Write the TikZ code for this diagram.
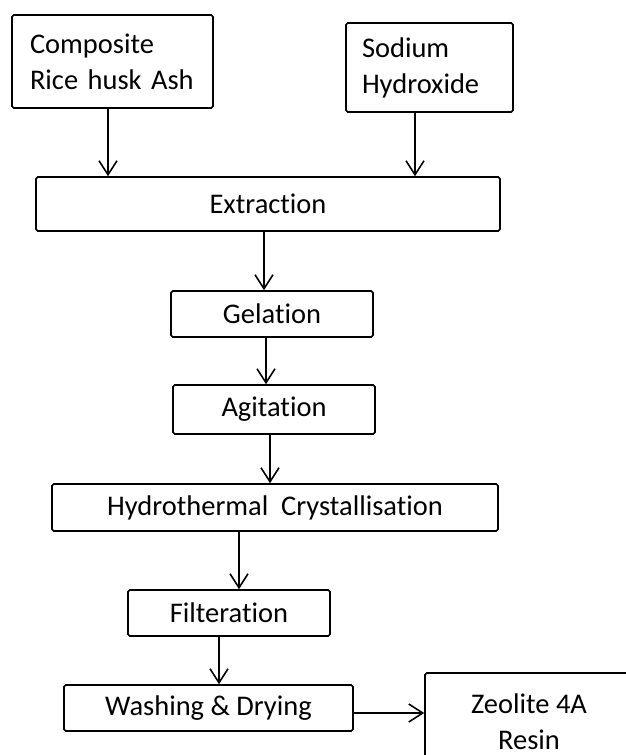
\documentclass[tikz,border=0pt]{standalone}
\usepackage{fontspec}
\setmainfont{Carlito}[Ligatures=NoCommon]
\usetikzlibrary{arrows.meta,
	positioning}

\begin{document}
\begin{tikzpicture}[
	>={Straight Barb[length=0.28cm,width=0.36cm]},
	box/.style 2 args={draw, line width=0.9pt, rounded corners=1pt, inner sep=0pt,
		minimum width=#1, minimum height=#2, font=\fontsize{16.2}{20.5}\selectfont},
	flow/.style={->, line width=0.9pt}]
	\useasboundingbox (0,0) rectangle (12.5,-15.1);
	% inputs
	\node[box={4.02cm}{1.86cm}, text width=3.3cm, align=left] (comp) at (2.25,-1.23) {Composite\\Rice husk Ash};
	\node[box={3.34cm}{1.78cm}, text width=2.7cm, align=left] (soda) at (8.59,-1.35) {Sodium\\Hydroxide};
	% process steps
	\node[box={9.28cm}{1.08cm}] (extr) at (5.36,-4.08) {Extraction};
	\node[box={4.04cm}{0.92cm}] (gel) at (5.44,-6.28) {Gelation};
	\node[box={4.04cm}{0.98cm}] (agit) at (5.48,-8.19) {Agitation};
	\node[box={8.92cm}{0.94cm}] (hydro) at (5.5,-10.15) {Hydrothermal\ \ Crystallisation};
	\node[box={4.04cm}{0.92cm}] (filt) at (4.58,-12.26) {Filteration};
	\node[box={5.78cm}{0.92cm}] (wash) at (4.17,-14.16) {Washing \& Drying};
	% product
	\node[box={4.16cm}{1.96cm}, align=center] (zeo) at (10.58,-14.44) {Zeolite 4A\\Resin};
	\foreach \src/\dst/\dx in {comp/extr/-0.09, soda/extr/-0.29, extr/gel/-0.08, gel/agit/-0.12,
		agit/hydro/-0.08, hydro/filt/-0.72, filt/wash/-0.2} {
		\coordinate (s) at ([xshift=\dx cm]\src.south);
		\draw[flow] (s) -- (s |- \dst.north);
	}
	\coordinate (w) at ([yshift=-0.1cm]wash.east);
	\draw[flow] (w) -- (w -| zeo.west);
\end{tikzpicture}
\end{document}
